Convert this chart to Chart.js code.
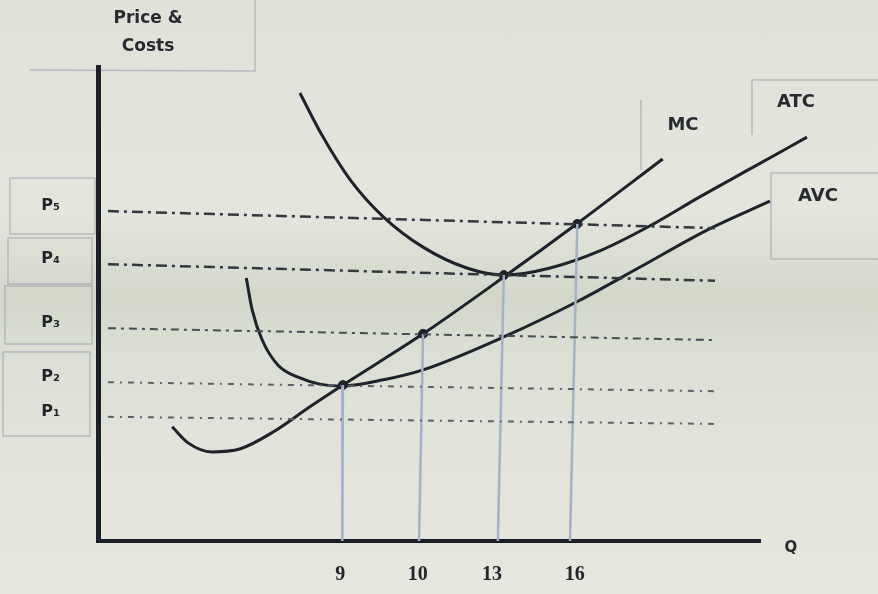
<!DOCTYPE html>
<html>
<head>
<meta charset="utf-8">
<script src="https://cdn.jsdelivr.net/npm/chart.js@4.4.1/dist/chart.umd.min.js"></script>
<style>
    html, body { margin: 0; padding: 0; }
    body {
        width: 878px; height: 594px; overflow: hidden;
        background: linear-gradient(180deg, #e0e1d9 0%, #e4e5dd 36%, #d3d7ca 50%, #dcdfd5 60%, #e4e4dc 80%, #e7e6df 100%);
    }
    #wrap { position: relative; width: 878px; height: 594px; }
</style>
</head>
<body>
<div id="wrap"><canvas id="costchart"></canvas></div>
<script>
    // quantity ticks on the x axis (chart units) and their labels
    const qTicks = [36.6, 48.3, 59.5, 72.0];
    const qLabels = ['9', '10', '13', '16'];

    // price levels: value at left end and right end of each guide line
    const priceLabels = ['P₁', 'P₂', 'P₃', 'P₄', 'P₅'];
    const priceLeft = [26.2, 33.5, 44.9, 58.4, 69.6];
    const priceRight = [24.7, 31.6, 42.4, 54.9, 66.0];
    const priceFromX = 1.5;
    const priceToX = 93.2;

    // cost curves
    const mcX = [11.2, 13.6, 17.2, 21.4, 26.7, 32.0, 37.0, 49.1, 61.5, 72.5, 85.3];
    const mcY = [24.1, 20.7, 18.8, 19.4, 23.2, 28.3, 32.9, 43.7, 55.9, 67.1, 80.6];

    const avcX = [22.4, 23.3, 24.8, 27.2, 30.5, 33.5, 37.0, 43.1, 49.1, 61.2, 72.8, 81.9, 92.0, 101.5];
    const avcY = [55.5, 48.7, 42.4, 37.1, 34.4, 33.1, 32.7, 34.0, 36.1, 43.0, 50.8, 57.8, 65.6, 71.7];

    const atcX = [30.5, 33.8, 38.1, 43.1, 49.1, 55.7, 61.5, 68.3, 75.8, 83.4, 90.9, 98.5, 107.1];
    const atcY = [94.5, 85.7, 76.2, 68.4, 62.0, 57.6, 56.1, 57.6, 61.2, 66.5, 72.6, 78.5, 85.2];

    // intersection dots and the drop lines under them
    const dotX = [37.0, 49.1, 61.3, 72.4];
    const dotY = [32.9, 43.7, 56.1, 66.9];
    const dropBottomX = [36.9, 48.5, 60.4, 71.3];

    const ink = '#1e2229';
    const pts = (xs, ys) => xs.map((x, i) => ({ x: x, y: ys[i] }));

    const curve = (label, xs, ys) => ({
        label: label,
        data: pts(xs, ys),
        showLine: true,
        borderColor: ink,
        borderWidth: 3,
        pointRadius: 0,
        cubicInterpolationMode: 'monotone',
        clip: false
    });

    const dashFor = [[6, 6, 2, 6], [6, 6, 2, 6], [8, 5, 3, 5], [11, 5, 3, 5], [11, 5, 3, 5]];
    const dashColor = ['#5b6166', '#5b6166', '#464c52', '#33383e', '#33383e'];

    const priceLines = priceLabels.map((lab, i) => ({
        label: lab,
        data: [{ x: priceFromX, y: priceLeft[i] }, { x: priceToX, y: priceRight[i] }],
        showLine: true,
        borderColor: dashColor[i],
        borderWidth: i > 2 ? 2.5 : 2,
        borderDash: dashFor[i],
        pointRadius: 0
    }));

    const drops = dotX.map((x, i) => ({
        label: 'drop' + i,
        data: [{ x: x, y: dotY[i] }, { x: dropBottomX[i], y: 0 }],
        showLine: true,
        borderColor: '#a3b2c9',
        borderWidth: 2.5,
        pointRadius: 0
    }));

    const dots = {
        label: 'dots',
        data: pts(dotX, dotY),
        showLine: false,
        pointRadius: 4.5,
        pointBackgroundColor: ink,
        pointBorderColor: ink
    };

    // faint label boxes and curve / axis names
    const annotations = {
        id: 'annotations',
        beforeDraw: (chart) => {
            const ctx = chart.ctx;
            ctx.save();
            ctx.strokeStyle = 'rgba(150,152,165,0.55)';
            ctx.lineWidth = 1.5;
            [[10, 178, 85, 56], [8, 238, 84, 46], [5, 286, 87, 58], [3, 352, 87, 84], [771, 173, 110, 86]]
                .forEach(r => ctx.strokeRect(r[0], r[1], r[2], r[3]));
            ctx.beginPath();
            ctx.moveTo(255, 0); ctx.lineTo(255, 71); ctx.lineTo(30, 70);
            ctx.moveTo(641, 100); ctx.lineTo(641, 170);
            ctx.moveTo(752, 135); ctx.lineTo(752, 80); ctx.lineTo(878, 80);
            ctx.stroke();
            ctx.restore();
        },
        afterDraw: (chart) => {
            const ctx = chart.ctx;
            ctx.save();
            ctx.fillStyle = '#272b30';
            ctx.textAlign = 'center';
            ctx.textBaseline = 'middle';
            ctx.font = 'bold 17px "DejaVu Sans"';
            ctx.fillText('Price &', 148, 19);
            ctx.fillText('Costs', 148, 47);
            ctx.font = 'bold 18px "DejaVu Sans"';
            ctx.fillText('MC', 683, 125);
            ctx.fillText('ATC', 796, 102);
            ctx.fillText('AVC', 818, 196);
            ctx.font = 'bold 15px "DejaVu Sans"';
            ctx.fillText('Q', 791, 548);
            ctx.restore();
        }
    };

    new Chart(document.getElementById('costchart'), {
        type: 'scatter',
        data: {
            datasets: [
                ...priceLines,
                ...drops,
                curve('MC', mcX, mcY),
                curve('ATC', atcX, atcY),
                curve('AVC', avcX, avcY),
                dots
            ]
        },
        options: {
            responsive: true,
            maintainAspectRatio: false,
            animation: false,
            layout: { padding: { top: 67, right: 118, left: 0, bottom: 0 } },
            scales: {
                x: {
                    type: 'linear', min: 0, max: 100,
                    grid: { display: false, drawTicks: false },
                    border: { display: true, color: '#1b1f27', width: 4 },
                    afterBuildTicks: (s) => { s.ticks = qTicks.map(v => ({ value: v })); },
                    afterFit: (s) => { s.height = 53; },
                    ticks: {
                        autoSkip: false, maxRotation: 0,
                        padding: 22,
                        color: '#22262b',
                        font: { family: 'Liberation Serif', size: 20, weight: 'bold' },
                        callback: (v, i) => qLabels[i]
                    }
                },
                y: {
                    type: 'linear', min: 0, max: 100,
                    grid: { display: false, drawTicks: false },
                    border: { display: true, color: '#1b1f27', width: 5 },
                    afterBuildTicks: (s) => { s.ticks = priceLeft.map(v => ({ value: v })); },
                    afterFit: (s) => { s.width = 98; },
                    ticks: {
                        autoSkip: false,
                        padding: 38,
                        labelOffset: -5,
                        color: '#22262b',
                        font: { family: 'DejaVu Sans', size: 16, weight: 'bold' },
                        callback: (v, i) => priceLabels[i]
                    }
                }
            },
            plugins: {
                legend: { display: false },
                tooltip: { enabled: false }
            }
        },
        plugins: [annotations]
    });
</script>
</body>
</html>
